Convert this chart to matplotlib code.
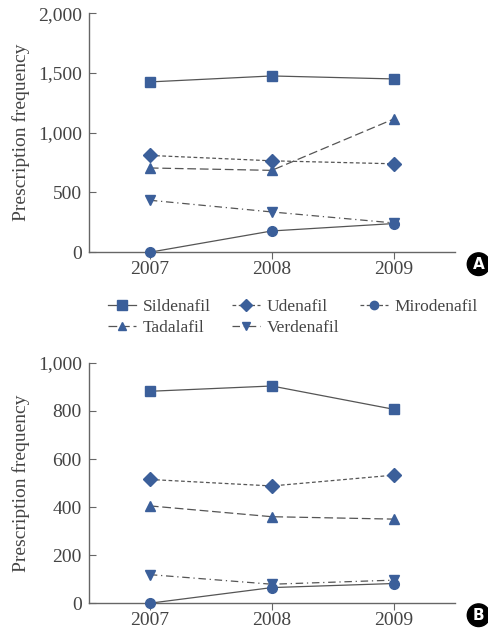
import matplotlib
matplotlib.use("Agg")
import matplotlib.pyplot as plt
from matplotlib.lines import Line2D

plt.rcParams['font.family'] = ['Liberation Serif', 'DejaVu Serif']

years = [2007, 2008, 2009]

# panel A
a_sildenafil = [1425, 1475, 1450]
a_udenafil = [810, 765, 740]
a_tadalafil = [705, 685, 1115]
a_verdenafil = [435, 337, 245]
a_mirodenafil = [0, 178, 240]

# panel B
b_sildenafil = [882, 904, 807]
b_udenafil = [515, 488, 533]
b_tadalafil = [405, 360, 350]
b_verdenafil = [119, 79, 96]
b_mirodenafil = [0, 65, 82]

blue = "#3b5f9a"
line_col = "#555555"
styles = {
    "Sildenafil": dict(marker="s", ls="-", ms=7.5),
    "Udenafil": dict(marker="D", ls=(0, (3, 2)), ms=7),
    "Tadalafil": dict(marker="^", ls=(0, (7, 3)), ms=7),
    "Verdenafil": dict(marker="v", ls=(0, (6, 3, 1, 3)), ms=7),
    "Mirodenafil": dict(marker="o", ls="-", ms=7),
}
legend_ls = dict(styles)
legend_ls["Mirodenafil"] = dict(marker="o", ls=(0, (3, 2)), ms=7)


def panel(ax, data, ymax, step, tag):
    for name, vals in data.items():
        st = styles[name]
        ax.plot(years, vals, color=line_col, lw=0.9, ls=st["ls"], marker=st["marker"],
                ms=st["ms"], mfc=blue, mec=blue, clip_on=False, zorder=3)
    ax.set_xlim(2006.5, 2009.5)
    ax.set_ylim(0, ymax)
    ax.set_xticks(years)
    ax.set_xticklabels([str(y) for y in years])
    ticks = list(range(0, ymax + 1, step))
    ax.set_yticks(ticks)
    ax.set_yticklabels([f"{t:,}" for t in ticks])
    for s in ["top", "right"]:
        ax.spines[s].set_visible(False)
    for s in ["left", "bottom"]:
        ax.spines[s].set_color("#666666")
        ax.spines[s].set_linewidth(1.0)
    ax.tick_params(axis="y", direction="in", length=5, pad=5, color="#666666", labelsize=14, labelcolor="#444444")
    ax.tick_params(axis="x", direction="out", length=5, pad=1, color="#666666", labelsize=14, labelcolor="#444444")
    ax.set_ylabel("Prescription frequency", fontsize=14, color="#444444", labelpad=6)
    ax.text(1.065, -0.05, tag, transform=ax.transAxes, ha="center", va="center",
            fontsize=11, fontweight="bold", color="white", family="DejaVu Sans",
            bbox=dict(boxstyle="circle,pad=0.25", fc="black", ec="black"))


fig = plt.figure(figsize=(4.88, 6.29), dpi=100)
ax1 = fig.add_axes([0.182, 0.599, 0.750, 0.380])
ax2 = fig.add_axes([0.182, 0.041, 0.750, 0.382])

panel(ax1, {"Sildenafil": a_sildenafil, "Udenafil": a_udenafil, "Tadalafil": a_tadalafil,
            "Verdenafil": a_verdenafil, "Mirodenafil": a_mirodenafil}, 2000, 500, "A")
panel(ax2, {"Sildenafil": b_sildenafil, "Udenafil": b_udenafil, "Tadalafil": b_tadalafil,
            "Verdenafil": b_verdenafil, "Mirodenafil": b_mirodenafil}, 1000, 200, "B")

handles = []
order = ["Sildenafil", "Tadalafil", "Udenafil", "Verdenafil", "Mirodenafil"]
for name in order:
    st = legend_ls[name]
    handles.append(Line2D([], [], color=line_col, lw=0.9, ls=st["ls"], marker=st["marker"],
                          ms=st["ms"] - 1, mfc=blue, mec=blue))
fig.legend(handles, order, loc="upper left", bbox_to_anchor=(0.215, 0.53), ncol=3,
           frameon=False, fontsize=12.5, handlelength=1.6, columnspacing=1.2,
           handletextpad=0.4, labelspacing=0.25, labelcolor="#444444",
           borderpad=0.2, borderaxespad=0)

fig.savefig("out.png", dpi=100)
